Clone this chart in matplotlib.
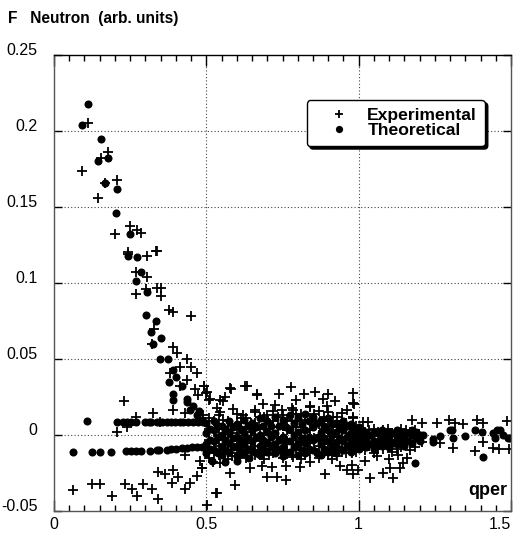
import matplotlib
matplotlib.use('Agg')
import matplotlib.pyplot as plt
import numpy as np
from matplotlib.ticker import MultipleLocator

plt.rcParams['font.family'] = ['Liberation Sans', 'DejaVu Sans']

# theoretical points, steep part at small qper
theo_steep = [(0.111, 0.218), (0.093, 0.204), (0.155, 0.195), (0.143, 0.180), (0.176, 0.182),
              (0.168, 0.166), (0.206, 0.162), (0.202, 0.146), (0.250, 0.132), (0.243, 0.118),
              (0.271, 0.117), (0.284, 0.107), (0.268, 0.1015), (0.304, 0.094), (0.301, 0.079),
              (0.335, 0.075), (0.318, 0.0676), (0.350, 0.064), (0.326, 0.060), (0.348, 0.050),
              (0.375, 0.050), (0.392, 0.043), (0.400, 0.038), (0.376, 0.035), (0.419, 0.032),
              (0.390, 0.027), (0.435, 0.0235), (0.392, 0.023), (0.435, 0.022), (0.446, 0.0165),
              (0.468, 0.013), (0.485, 0.010), (0.107, 0.0092), (0.455, 0.019), (0.475, 0.016)]

# the two flat rows of theoretical points
theo_row_hi_x = [0.206, 0.225, 0.241, 0.253, 0.269, 0.299, 0.313, 0.320, 0.337, 0.353,
                 0.370, 0.383, 0.397, 0.414, 0.424, 0.441, 0.457, 0.474, 0.490]
theo_row_hi_y = [0.0083] * len(theo_row_hi_x)
theo_row_lo_x = [0.063, 0.126, 0.151, 0.187, 0.236, 0.253, 0.269, 0.285, 0.315, 0.337,
                 0.346, 0.370, 0.384, 0.400, 0.419, 0.436, 0.452, 0.468, 0.485]
theo_row_lo_y = [-0.0112, -0.0111, -0.0111, -0.0110, -0.0108, -0.0107, -0.0106, -0.0105, -0.0102, -0.0100,
                 -0.0099, -0.0096, -0.0094, -0.0091, -0.0088, -0.0085, -0.0082, -0.0079, -0.0076]

# dense band of theoretical points (qper 0.5 - 1.2)
theo_band = [
    (0.500, -0.012), (0.500, -0.006), (0.500, 0.001), (0.500, 0.008),
    (0.525, -0.010), (0.525, -0.004), (0.525, 0.003), (0.525, 0.009),
    (0.550, -0.013), (0.550, -0.007), (0.550, 0.000), (0.550, 0.006),
    (0.575, -0.011), (0.575, -0.005), (0.575, 0.002), (0.575, 0.009),
    (0.600, -0.014), (0.600, -0.008), (0.600, -0.001), (0.600, 0.007),
    (0.625, -0.012), (0.625, -0.006), (0.625, 0.001), (0.625, 0.010),
    (0.650, -0.010), (0.650, -0.004), (0.650, 0.003), (0.650, 0.008),
    (0.675, -0.013), (0.675, -0.007), (0.675, 0.000), (0.675, 0.011),
    (0.700, -0.011), (0.700, -0.005), (0.700, 0.002), (0.700, 0.009),
    (0.725, -0.012), (0.725, -0.006), (0.725, 0.001), (0.725, 0.012),
    (0.750, -0.014), (0.750, -0.008), (0.750, -0.001), (0.750, 0.010),
    (0.775, -0.011), (0.775, -0.004), (0.775, 0.004), (0.775, 0.013),
    (0.800, -0.013), (0.800, -0.006), (0.800, 0.002), (0.800, 0.011),
    (0.825, -0.012), (0.825, -0.005), (0.825, 0.003), (0.825, 0.014),
    (0.850, -0.010), (0.850, -0.003), (0.850, 0.005), (0.850, 0.012),
    (0.875, -0.013), (0.875, -0.006), (0.875, 0.001), (0.875, 0.010),
    (0.900, -0.011), (0.900, -0.004), (0.900, 0.003), (0.900, 0.011),
    (0.925, -0.012), (0.925, -0.005), (0.925, 0.002), (0.925, 0.008),
    (0.950, -0.010), (0.950, -0.004), (0.950, 0.003), (0.950, 0.009),
    (0.975, -0.011), (0.975, -0.005), (0.975, 0.001), (0.975, 0.007),
    (1.000, -0.009), (1.000, -0.004), (1.000, 0.001), (1.000, 0.005),
    (1.025, -0.008), (1.025, -0.003), (1.025, 0.002),
    (1.050, -0.009), (1.050, -0.004), (1.050, 0.001),
    (1.075, -0.007), (1.075, -0.002), (1.075, 0.003),
    (1.100, -0.008), (1.100, -0.003), (1.100, 0.002),
    (1.125, -0.006), (1.125, -0.001), (1.125, 0.003),
    (1.150, -0.007), (1.150, -0.002), (1.150, 0.002),
    (1.175, -0.005), (1.175, 0.000), (1.175, 0.003),
    (1.200, -0.004), (1.200, 0.000),
]

# in-between theoretical points of the same band
theo_band_mid = [
    (0.5125, -0.009), (0.5125, -0.003), (0.5125, 0.004),
    (0.5375, -0.012), (0.5375, -0.001), (0.5375, 0.006),
    (0.5625, -0.010), (0.5625, -0.003), (0.5625, 0.004),
    (0.5875, -0.008), (0.5875, -0.002), (0.5875, 0.005),
    (0.6125, -0.011), (0.6125, -0.004), (0.6125, 0.004),
    (0.6375, -0.009), (0.6375, -0.002), (0.6375, 0.006),
    (0.6625, -0.012), (0.6625, -0.001), (0.6625, 0.005),
    (0.6875, -0.009), (0.6875, -0.003), (0.6875, 0.006),
    (0.7125, -0.008), (0.7125, -0.001), (0.7125, 0.006),
    (0.7375, -0.010), (0.7375, -0.003), (0.7375, 0.006),
    (0.7625, -0.011), (0.7625, -0.004), (0.7625, 0.005),
    (0.7875, -0.008), (0.7875, 0.000), (0.7875, 0.008),
    (0.8125, -0.010), (0.8125, -0.002), (0.8125, 0.007),
    (0.8375, -0.009), (0.8375, -0.001), (0.8375, 0.009),
    (0.8625, -0.012), (0.8625, -0.002), (0.8625, 0.008),
    (0.8875, -0.009), (0.8875, -0.002), (0.8875, 0.006),
    (0.9125, -0.008), (0.9125, 0.000), (0.9125, 0.007),
    (0.9375, -0.009), (0.9375, -0.002), (0.9375, 0.005),
    (0.9625, -0.008), (0.9625, -0.001), (0.9625, 0.006),
    (0.9875, -0.008), (0.9875, -0.002), (0.9875, 0.004),
    (1.0125, -0.006), (1.0125, -0.001), (1.0125, 0.003),
    (1.0375, -0.006), (1.0375, 0.000),
    (1.0625, -0.006), (1.0625, 0.002),
    (1.0875, -0.005), (1.0875, 0.000),
    (1.1125, -0.005), (1.1125, 0.001),
    (1.1375, -0.004), (1.1375, 0.001),
    (1.1625, -0.004), (1.1625, 0.001),
    (1.1875, -0.002), (1.1875, 0.002),
    (0.520, -0.017), (0.560, -0.018), (0.600, -0.017), (0.640, -0.015),
]

# sparse theoretical points beyond 1.2
theo_tail = [(1.212, 0.0), (1.245, -0.0028), (1.267, -0.0007), (1.300, 0.0033), (1.311, -0.0022),
             (1.349, -0.0007), (1.382, 0.0033), (1.409, -0.0143), (1.442, 0.001), (1.464, 0.0033),
             (1.491, -0.0022), (1.185, -0.0186), (1.404, 0.0022), (1.453, 0.0033), (1.475, 0.0),
             (1.245, -0.0044), (1.447, -0.0022), (1.497, -0.0022), (1.305, 0.0033)]

# experimental points
exp_steep = [(0.111, 0.205), (0.093, 0.174), (0.176, 0.186), (0.155, 0.182), (0.206, 0.168),
             (0.167, 0.166), (0.143, 0.156), (0.249, 0.1375), (0.271, 0.135), (0.284, 0.133),
             (0.201, 0.132), (0.243, 0.119), (0.306, 0.118), (0.335, 0.121), (0.244, 0.1206),
             (0.337, 0.121), (0.268, 0.107), (0.306, 0.104), (0.302, 0.096), (0.339, 0.097),
             (0.351, 0.097), (0.351, 0.0914), (0.268, 0.0925), (0.377, 0.082), (0.392, 0.081),
             (0.451, 0.078), (0.329, 0.0697), (0.323, 0.060), (0.392, 0.058), (0.403, 0.054),
             (0.438, 0.050), (0.414, 0.045), (0.449, 0.045), (0.381, 0.041), (0.470, 0.0405),
             (0.435, 0.036), (0.414, 0.032), (0.493, 0.032), (0.463, 0.030), (0.501, 0.028),
             (0.474, 0.026), (0.512, 0.024), (0.561, 0.025)]

exp_scatter = [
    (0.231, 0.0224), (0.326, 0.0147), (0.269, 0.012), (0.392, 0.0165), (0.430, 0.0143),
    (0.206, 0.0022), (0.239, 0.005), (0.348, 0.0088), (0.430, -0.0132), (0.342, -0.0241),
    (0.364, -0.0259), (0.392, -0.023), (0.408, -0.0278), (0.386, -0.0314), (0.124, -0.0325),
    (0.151, -0.0325), (0.063, -0.0362), (0.189, -0.040), (0.233, -0.0325), (0.255, -0.0357),
    (0.273, -0.040), (0.293, -0.0325), (0.321, -0.0357), (0.342, -0.0423), (0.430, -0.0357),
    (0.446, -0.0314), (0.468, -0.027), (0.485, -0.0219), (0.479, -0.0169), (0.501, -0.046),
    (0.534, -0.038), (0.627, 0.032), (0.493, 0.032), (0.580, 0.030), (0.667, 0.0268),
    (0.738, 0.0268), (0.777, 0.0318), (0.822, 0.0268), (0.857, 0.0285), (0.900, 0.0268),
    (0.982, 0.0278), (0.499, 0.0274), (0.510, 0.023), (0.556, 0.0226), (0.794, 0.023),
    (0.884, 0.0234), (0.922, 0.0226), (0.982, 0.0208), (0.687, 0.0202), (0.725, 0.0197),
    (0.660, 0.0165), (0.747, 0.0165), (0.785, 0.0165), (0.840, 0.0186), (0.895, 0.019),
    (0.944, 0.0147), (0.961, 0.0165), (0.534, 0.0175), (0.588, 0.0169), (0.488, 0.0132),
    (0.545, 0.0153), (0.621, 0.0132), (0.698, 0.0132), (0.982, 0.011), (0.523, -0.0175),
    (0.578, -0.0252), (0.594, -0.033), (0.532, -0.0384), (0.643, -0.0219), (0.682, -0.0204),
    (0.698, -0.0278), (0.733, -0.0278), (0.761, -0.0296), (0.714, -0.0208), (0.761, -0.0204),
    (0.785, -0.0143), (0.807, -0.0208), (0.840, -0.0175), (0.889, -0.0257), (0.911, -0.016),
    (0.939, -0.0204), (0.982, -0.0257), (0.961, -0.023), (0.485, -0.0219), (0.610, -0.0143),
    (0.545, -0.0186), (0.578, 0.0307), (0.665, 0.0263), (0.632, 0.032), (0.545, 0.023),
    (0.985, 0.0204), (0.982, 0.012), (1.015, 0.0088), (1.031, 0.0088), (1.174, 0.0099),
    (1.207, 0.0081), (1.258, 0.0077), (1.298, 0.0099), (1.316, 0.0077), (1.343, 0.0072),
    (1.387, 0.0099), (1.409, 0.0081), (1.486, 0.0094), (1.207, -0.0044), (1.267, -0.0055),
    (1.311, -0.0088), (1.382, -0.0103), (1.409, -0.0044), (1.442, -0.0088), (1.461, -0.0094),
    (1.494, -0.0094), (0.999, -0.023), (1.037, -0.0285), (1.081, -0.0252), (1.103, -0.0219),
    (1.136, -0.0219), (1.146, -0.0182), (1.114, -0.0285), (0.977, -0.012), (0.977, -0.0197),
    (1.060, -0.014), (1.100, -0.016), (1.130, -0.013), (1.160, -0.015), (1.020, -0.017),
]

# dense band of experimental points (qper 0.5 - 1.2)
exp_band = [
    (0.51, -0.015), (0.51, -0.009), (0.51, -0.003), (0.51, 0.004), (0.51, 0.011),
    (0.54, -0.013), (0.54, -0.007), (0.54, 0.000), (0.54, 0.006), (0.54, 0.013),
    (0.57, -0.016), (0.57, -0.010), (0.57, -0.004), (0.57, 0.003), (0.57, 0.009),
    (0.60, -0.012), (0.60, -0.006), (0.60, 0.001), (0.60, 0.007), (0.60, 0.014),
    (0.63, -0.015), (0.63, -0.008), (0.63, -0.002), (0.63, 0.005), (0.63, 0.011),
    (0.66, -0.013), (0.66, -0.007), (0.66, 0.000), (0.66, 0.008), (0.66, 0.015),
    (0.69, -0.016), (0.69, -0.009), (0.69, -0.003), (0.69, 0.004), (0.69, 0.012),
    (0.72, -0.012), (0.72, -0.005), (0.72, 0.002), (0.72, 0.009), (0.72, 0.016),
    (0.75, -0.015), (0.75, -0.008), (0.75, -0.001), (0.75, 0.006), (0.75, 0.013),
    (0.78, -0.013), (0.78, -0.006), (0.78, 0.001), (0.78, 0.009), (0.78, 0.018),
    (0.81, -0.016), (0.81, -0.009), (0.81, -0.002), (0.81, 0.005), (0.81, 0.014),
    (0.84, -0.012), (0.84, -0.005), (0.84, 0.003), (0.84, 0.010), (0.84, 0.019),
    (0.87, -0.015), (0.87, -0.007), (0.87, 0.000), (0.87, 0.007), (0.87, 0.016),
    (0.90, -0.013), (0.90, -0.006), (0.90, 0.002), (0.90, 0.009), (0.90, 0.015),
    (0.93, -0.014), (0.93, -0.008), (0.93, -0.001), (0.93, 0.006), (0.93, 0.012),
    (0.96, -0.012), (0.96, -0.005), (0.96, 0.001), (0.96, 0.008),
    (0.99, -0.011), (0.99, -0.004), (0.99, 0.002), (0.99, 0.006),
    (1.02, -0.010), (1.02, -0.004), (1.02, 0.002),
    (1.05, -0.012), (1.05, -0.006), (1.05, 0.000), (1.05, 0.004),
    (1.08, -0.009), (1.08, -0.003), (1.08, 0.003),
    (1.11, -0.011), (1.11, -0.005), (1.11, 0.001),
    (1.14, -0.008), (1.14, -0.002), (1.14, 0.004),
    (1.17, -0.010), (1.17, -0.004), (1.17, 0.002),
]

# in-between experimental points of the same band
exp_band_mid = [
    (0.525, -0.012), (0.525, -0.005), (0.525, 0.002), (0.525, 0.009),
    (0.555, -0.010), (0.555, -0.003), (0.555, 0.004), (0.555, 0.010),
    (0.585, -0.014), (0.585, -0.007), (0.585, -0.001), (0.585, 0.006),
    (0.615, -0.009), (0.615, -0.003), (0.615, 0.004), (0.615, 0.011),
    (0.645, -0.012), (0.645, -0.005), (0.645, 0.002), (0.645, 0.008),
    (0.675, -0.010), (0.675, -0.004), (0.675, 0.004), (0.675, 0.012),
    (0.705, -0.013), (0.705, -0.006), (0.705, 0.001), (0.705, 0.008),
    (0.735, -0.009), (0.735, -0.002), (0.735, 0.005), (0.735, 0.012),
    (0.765, -0.012), (0.765, -0.005), (0.765, 0.003), (0.765, 0.010),
    (0.795, -0.010), (0.795, -0.003), (0.795, 0.005), (0.795, 0.014),
    (0.825, -0.013), (0.825, -0.006), (0.825, 0.002), (0.825, 0.010),
    (0.855, -0.009), (0.855, -0.002), (0.855, 0.006), (0.855, 0.014),
    (0.885, -0.012), (0.885, -0.004), (0.885, 0.004), (0.885, 0.012),
    (0.915, -0.010), (0.915, -0.003), (0.915, 0.005), (0.915, 0.012),
    (0.945, -0.011), (0.945, -0.005), (0.945, 0.003), (0.945, 0.009),
    (0.975, -0.009), (0.975, -0.002), (0.975, 0.004),
    (1.005, -0.008), (1.005, -0.001), (1.005, 0.004),
    (1.035, -0.007), (1.035, -0.001), (1.035, 0.003),
    (1.065, -0.009), (1.065, -0.003), (1.065, 0.002),
    (1.095, -0.007), (1.095, -0.001), (1.095, 0.004),
    (1.125, -0.009), (1.125, -0.003), (1.125, 0.002),
    (1.155, -0.006), (1.155, 0.000), (1.155, 0.003),
    (1.185, -0.008), (1.185, -0.002), (1.185, 0.003),
]

theo = np.array(theo_steep + list(zip(theo_row_hi_x, theo_row_hi_y))
                + list(zip(theo_row_lo_x, theo_row_lo_y)) + theo_band + theo_band_mid + theo_tail)
expt = np.array(exp_steep + exp_scatter + exp_band + exp_band_mid)

fig = plt.figure(figsize=(5.22, 5.33), dpi=100)
ax = fig.add_axes([54/522, 1-511/533, 457/522, 456/533])

ax.plot(expt[:, 0], expt[:, 1], '+', color='black', ms=6.5, mew=1.3, label='Experimental')
ax.plot(theo[:, 0], theo[:, 1], 'o', color='black', ms=5.8, mew=0, label='Theoretical')

ax.set_xlim(0, 1.5)
ax.set_ylim(-0.05, 0.25)
ax.xaxis.set_minor_locator(MultipleLocator(0.05))
ax.tick_params(axis='x', which='major', direction='in', top=True, length=8, width=1,
               labelsize=11.5, pad=4)
ax.tick_params(axis='x', which='minor', direction='in', top=True, length=4, width=1)
ax.tick_params(axis='y', which='major', direction='in', right=True, length=6, width=1,
               labelsize=11.5, pad=12)
ax.set_xticks([0, 0.5, 1, 1.5])
ax.set_xticklabels(['0', '0.5', '1', '1.5'])
ax.set_yticks([-0.05, 0, 0.05, 0.1, 0.15, 0.2, 0.25])
ax.set_yticklabels(['-0.05', '0', '0.05', '0.1', '0.15', '0.2', '0.25'])
ax.get_xticklabels()[-1].set_horizontalalignment('right')
for lab in ax.get_yticklabels():
    lab.set_verticalalignment('baseline')

for v in [0.5, 1.0]:
    ax.axvline(v, color='#444444', lw=0.8, ls=(0, (1, 2)), zorder=0)
for v in [0, 0.05, 0.1, 0.15, 0.2]:
    ax.axhline(v, color='#444444', lw=0.8, ls=(0, (1, 2)), zorder=0)

for s in ax.spines.values():
    s.set_color('#555555')
    s.set_linewidth(1)
ax.spines['top'].set_color('black')

leg = ax.legend(loc='upper left', bbox_to_anchor=(253/457, 411/456), fancybox=True,
                shadow={'color': 'black', 'alpha': 1}, framealpha=1, edgecolor='black',
                prop={'weight': 'bold', 'size': 12.6}, handletextpad=0.2, borderpad=0.45,
                labelspacing=0.0, handlelength=2.8, borderaxespad=0, markerscale=0.9)
leg.get_frame().set_linewidth(1)

ax.text(0.95, 0.046, 'qper', transform=ax.transAxes, ha='center', va='center',
        fontsize=13, fontweight='bold')
fig.text(8/522, 1-18/533, 'F   Neutron  (arb. units)', ha='left', va='center',
         fontsize=11.2, fontweight='bold')

fig.savefig('out.png', dpi=100)
